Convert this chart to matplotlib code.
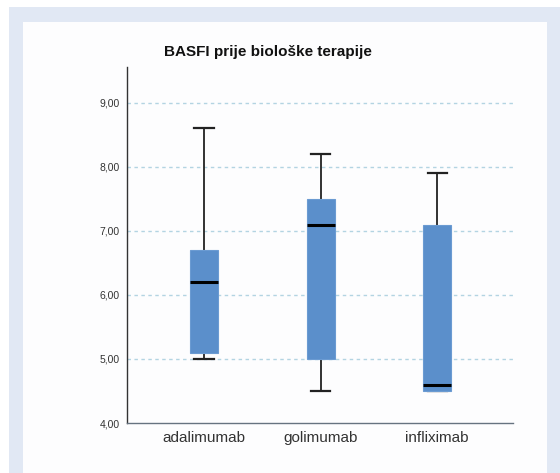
import matplotlib
matplotlib.use("Agg")
import matplotlib.pyplot as plt
from matplotlib.patches import Rectangle

categories = ["adalimumab", "golimumab", "infliximab"]
whisker_low = [5.0, 4.5, 4.5]
q1 = [5.1, 5.0, 4.5]
median = [6.2, 7.1, 4.6]
q3 = [6.7, 7.5, 7.1]
whisker_high = [8.6, 8.2, 7.9]
yticks = [4.0, 5.0, 6.0, 7.0, 8.0, 9.0]
title = "BASFI prije biološke terapije"

plt.rcParams['font.family'] = ['Liberation Sans', 'DejaVu Sans']

fig = plt.figure(figsize=(5.6, 4.73), dpi=100)
fig.patches.append(Rectangle((9/560, 0), 1 - 9/560, 1 - 7/473, transform=fig.transFigure,
                             facecolor='#e1e8f4', edgecolor='none', zorder=-10))
fig.patches.append(Rectangle((23/560, 0), (547-23)/560, 1 - 22/473, transform=fig.transFigure,
                             facecolor='#fdfdfe', edgecolor='none', zorder=-9))

ax = fig.add_axes([127/560, 1 - 423/473, (513-127)/560, (423-67)/473])
ax.set_facecolor('none')

stats = []
for i, c in enumerate(categories):
    stats.append(dict(label=c, whislo=whisker_low[i], q1=q1[i], med=median[i],
                      q3=q3[i], whishi=whisker_high[i], fliers=[]))
res = ax.bxp(stats, positions=range(len(categories)), widths=0.24, patch_artist=True,
       showfliers=False,
       boxprops=dict(facecolor='#5b8fcb', edgecolor='#6b9bd2', linewidth=0.8),
       medianprops=dict(color='black', linewidth=2.2),
       whiskerprops=dict(color='#222222', linewidth=1.3),
       capprops=dict(color='#222222', linewidth=1.6),
       capwidths=0.165)
for b in res['boxes']:
    b.set_zorder(3)
for m in res['medians']:
    m.set_zorder(4)

ax.set_xlim(-0.66, 2.65)
ax.set_ylim(4.0, 9.56)
ax.set_yticks(yticks)
ax.set_yticklabels([f"{v:.2f}".replace('.', ',') for v in yticks], fontsize=7.5, color='#333333')
ax.set_xticks(range(len(categories)))
ax.set_xticklabels(categories, fontsize=11, color='#333333')
ax.tick_params(axis='both', length=0)
ax.tick_params(axis='y', pad=5)
ax.tick_params(axis='x', pad=6)
for y in yticks[1:]:
    ax.axhline(y, color='#b3d4e2', linestyle=(0, (2.5, 2.5)), linewidth=1.0, zorder=0)
for s in ['top', 'right']:
    ax.spines[s].set_visible(False)
ax.spines['left'].set_color('#333333')
ax.spines['bottom'].set_color('#667380')
ax.spines['left'].set_linewidth(1.0)
ax.spines['bottom'].set_linewidth(1.0)

fig.text(268/560, 1 - 52/473, title, ha='center', va='center', fontsize=11,
         fontweight='bold', color='#111111')

fig.savefig("out.png", dpi=100)
